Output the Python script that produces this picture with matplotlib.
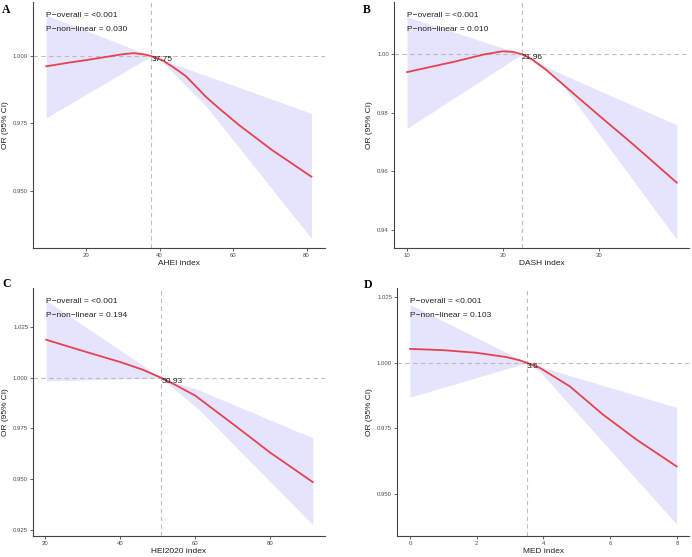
import numpy as np
import matplotlib
matplotlib.use("Agg")
from matplotlib import pyplot as plt
from matplotlib import transforms

plt.rcParams['font.family'] = ['Liberation Sans', 'DejaVu Sans']

my_dpi = 100
W, H = 692, 557

line_color = '#E8414E'
band_color = '#E4E4FC'
ref_color = '#BDBDBD'

# ---- panel A: AHEI
ahei_x = [9.2, 15, 20, 25, 30, 33, 36, 37.75, 40.9, 43.6, 45.4, 47.2, 50, 52.6, 56,
          61.6, 70.6, 81.3]
ahei_or = [0.9962, 0.9975, 0.9985, 0.9996, 1.0007, 1.0011, 1.0006, 1.0, 0.9984, 0.9960,
           0.9943, 0.9925, 0.9886, 0.9849, 0.9808, 0.9744, 0.9651, 0.9552]
ahei_band_x = [9.2, 37.75, 40.9, 52.6, 81.3]
ahei_upper = [1.0152, 1.0, 0.9985, 0.9928, 0.9787]
ahei_lower = [0.9771, 1.0, 0.9977, 0.9815, 0.9323]

# ---- panel B: DASH
dash_x = [10, 15, 18, 19.97, 21, 21.96, 23, 24.48, 27.26, 30.03, 33.5, 38.09]
dash_or = [0.9939, 0.9975, 0.9999, 1.0010, 1.0008, 1.0, 0.9983, 0.9947, 0.9868, 0.9790,
           0.9694, 0.9562]
dash_band_x = [10, 21.96, 25.87, 38.09]
dash_upper = [1.0127, 1.0, 0.9936, 0.9759]
dash_lower = [0.9747, 1.0, 0.9910, 0.9369]

# ---- panel C: HEI2020
hei_x = [20.3, 30, 40, 46, 50.93, 55, 60, 70.1, 80, 91.3]
hei_or = [1.0188, 1.0133, 1.0078, 1.0040, 1.0, 0.9962, 0.9912, 0.9771, 0.9630, 0.9485]
hei_band_x = [20.3, 50.93, 61.3, 91.3]
hei_upper = [1.0382, 1.0, 0.9937, 0.9703]
hei_lower = [0.9984, 1.0, 0.9838, 0.9274]

# ---- panel D: MED
med_x = [0, 1, 2, 2.88, 3.3, 3.5, 3.9, 4.79, 5.79, 6.79, 7.99]
med_or = [1.0053, 1.0048, 1.0038, 1.0022, 1.0009, 1.0, 0.9980, 0.9910, 0.9802, 0.9707, 0.9605]
med_band_x = [0, 3.5, 3.9, 7.99]
med_upper = [1.0222, 1.0, 0.9985, 0.9830]
med_lower = [0.9869, 1.0, 0.9965, 0.9385]

panels = [
    dict(tag='A', x=ahei_x, y=ahei_or, bx=ahei_band_x, up=ahei_upper, lo=ahei_lower,
         knot=37.75, knot_txt='37.75', xlab='AHEI index', p1='<0.001', p2='0.030',
         xticks=[20, 40, 60, 80], yticks=[0.950, 0.975, 1.000], fmt='{:.3f}',
         xlim=(5.6, 85.0), ylim=(0.9287, 1.0201), box=(33, 325, 2, 248)),
    dict(tag='B', x=dash_x, y=dash_or, bx=dash_band_x, up=dash_upper, lo=dash_lower,
         knot=21.96, knot_txt='21.96', xlab='DASH index', p1='<0.001', p2='0.010',
         xticks=[10, 20, 30], yticks=[0.94, 0.96, 0.98, 1.00], fmt='{:.2f}',
         xlim=(8.61, 39.4), ylim=(0.9338, 1.0178), box=(393.7, 689.3, 2, 248.3)),
    dict(tag='C', x=hei_x, y=hei_or, bx=hei_band_x, up=hei_upper, lo=hei_lower,
         knot=50.93, knot_txt='50.93', xlab='HEI2020 index', p1='<0.001', p2='0.194',
         xticks=[20, 40, 60, 80], yticks=[0.925, 0.950, 0.975, 1.000, 1.025], fmt='{:.3f}',
         xlim=(16.8, 94.57), ylim=(0.9217, 1.0442), box=(33, 325, 288.3, 536.3)),
    dict(tag='D', x=med_x, y=med_or, bx=med_band_x, up=med_upper, lo=med_lower,
         knot=3.5, knot_txt='3.5', xlab='MED index', p1='<0.001', p2='0.103',
         xticks=[0, 2, 4, 6, 8], yticks=[0.950, 0.975, 1.000, 1.025], fmt='{:.3f}',
         xlim=(-0.39, 8.37), ylim=(0.9341, 1.0285), box=(397, 689.3, 288, 535.7)),
]

tag_pos = {'A': (2.3, 12.7), 'B': (362.7, 13.3), 'C': (2.7, 287.3), 'D': (363.3, 288.3)}

fig = plt.figure(figsize=(W / my_dpi, H / my_dpi), dpi=my_dpi, facecolor='w')

for p in panels:
    l, r, t, b = p['box']
    ax = fig.add_axes([l / W, 1 - b / H, (r - l) / W, (b - t) / H])
    ax.fill_between(p['bx'], p['lo'], p['up'], color=band_color, lw=0, zorder=1)
    ax.axhline(1.0, color=ref_color, lw=0.8, ls=(0, (4, 3)), zorder=2)
    ax.axvline(p['knot'], color=ref_color, lw=0.8, ls=(0, (4, 3)), zorder=2)
    ax.plot(p['x'], p['y'], color=line_color, lw=1.3, zorder=3, solid_joinstyle='round')
    ax.text(p['knot'], 1.0, p['knot_txt'], ha='left', va='top', fontsize=6, color='#222222',
            zorder=4)

    trans = transforms.blended_transform_factory(ax.transData, ax.transAxes)
    x0 = p['x'][0]
    ax.text(x0, 0.946, 'P\u2212overall = ' + p['p1'], transform=trans, ha='left',
            va='center', fontsize=6, color='#222222')
    ax.text(x0, 0.89, 'P\u2212non\u2212linear = ' + p['p2'], transform=trans, ha='left',
            va='center', fontsize=6, color='#222222')

    ax.set_xlim(*p['xlim'])
    ax.set_ylim(*p['ylim'])
    ax.set_xticks(p['xticks'])
    ax.set_xticklabels([str(v) for v in p['xticks']])
    ax.set_yticks(p['yticks'])
    ax.set_yticklabels([p['fmt'].format(v) for v in p['yticks']])
    ax.tick_params(labelsize=4.3, colors='#4D4D4D', length=2, width=0.6, pad=1.5)
    ax.set_xlabel(p['xlab'], fontsize=6, color='#222222', labelpad=1.5)
    ax.set_ylabel('OR (95% CI)', fontsize=6, color='#222222', labelpad=3)
    for s in ['top', 'right']:
        ax.spines[s].set_visible(False)
    for s in ['left', 'bottom']:
        ax.spines[s].set_color('#444444')
        ax.spines[s].set_linewidth(0.8)

    tx, ty = tag_pos[p['tag']]
    fig.text(tx / W, 1 - ty / H, p['tag'], family=['Liberation Serif', 'DejaVu Serif'],
             fontweight='bold', fontsize=8.5, ha='left', va='baseline')

fig.savefig('out.png', dpi=my_dpi)
